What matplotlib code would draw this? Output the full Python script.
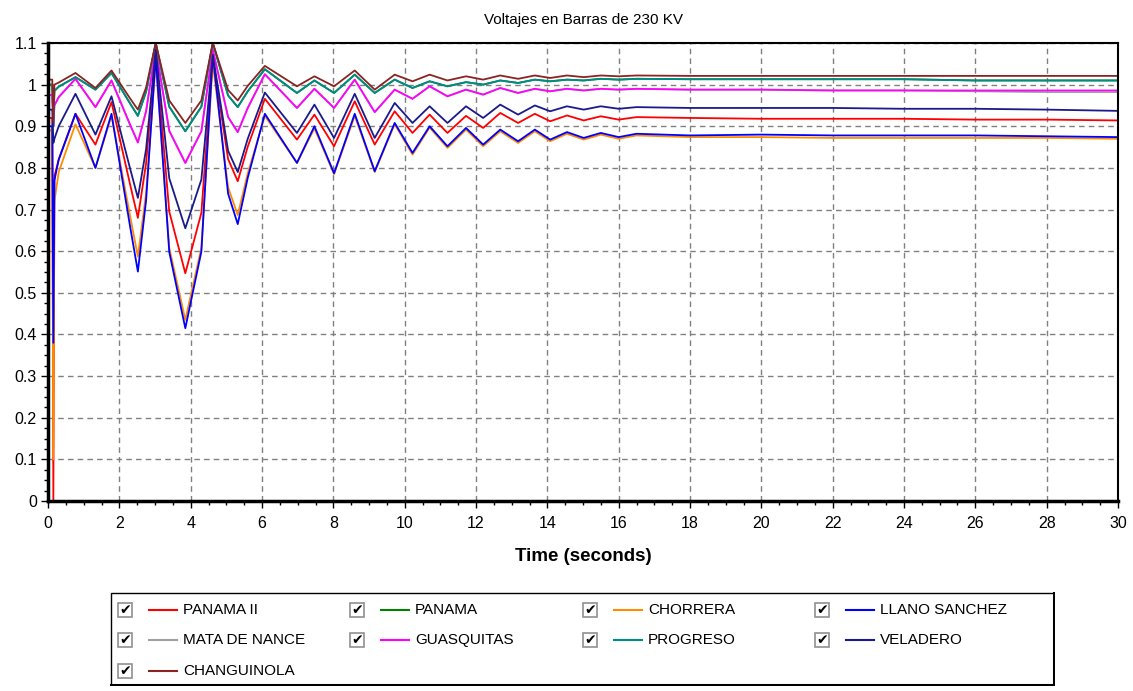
import matplotlib
matplotlib.use("Agg")
import matplotlib.pyplot as plt
from matplotlib.patches import Rectangle
from matplotlib.ticker import MultipleLocator, FormatStrFormatter

plt.rcParams["font.family"] = ["Liberation Sans", "DejaVu Sans"]

t = [0, 0.12, 0.15, 0.18, 0.3, 0.77, 1.33, 1.78, 2.3, 2.52,
     2.75, 3.02, 3.4, 3.85, 4.3, 4.62, 5.05, 5.32, 5.6, 6.08,
     6.98, 7.47, 8.02, 8.6, 9.16, 9.72,
     10.22, 10.7, 11.2, 11.72, 12.2, 12.68, 13.18, 13.65, 14.08, 14.55,
     15.02, 15.5, 16.0, 16.5, 18, 20, 22, 24, 26, 28, 30]

panama_ii = [0.92, 0.92, 0.0, 0.78, 0.82, 0.93, 0.856, 0.958, 0.761, 0.68,
             0.811, 1.076, 0.695, 0.547, 0.692, 1.064, 0.821, 0.768, 0.851, 0.966,
             0.868, 0.928, 0.852, 0.96, 0.856, 0.936,
             0.884, 0.928, 0.884, 0.925, 0.896, 0.932, 0.908, 0.93, 0.912, 0.926,
             0.914, 0.924, 0.916, 0.922, 0.92, 0.918, 0.918, 0.918, 0.916, 0.916, 0.914]
panama = [1.0, 1.0, 0.9, 0.985, 0.995, 1.018, 0.988, 1.028, 0.955, 0.925,
          0.983, 1.1, 0.947, 0.888, 0.947, 1.1, 0.974, 0.946, 0.984, 1.037,
          0.98, 1.01, 0.98, 1.024, 0.98, 1.012,
          0.992, 1.008, 0.996, 1.006, 1.0, 1.01, 1.004, 1.012, 1.008, 1.012,
          1.01, 1.014, 1.012, 1.014, 1.013, 1.013, 1.013, 1.013, 1.01, 1.01, 1.01]
chorrera = [0.89, 0.89, 0.1, 0.72, 0.79, 0.905, 0.8, 0.925, 0.685, 0.587,
            0.74, 1.052, 0.608, 0.435, 0.608, 1.052, 0.753, 0.687, 0.787, 0.925,
            0.812, 0.895, 0.785, 0.925, 0.79, 0.905,
            0.832, 0.897, 0.848, 0.892, 0.852, 0.888, 0.86, 0.888, 0.864, 0.882,
            0.868, 0.88, 0.87, 0.878, 0.874, 0.874, 0.872, 0.872, 0.872, 0.872, 0.87]
llano_sanchez = [0.9, 0.9, 0.38, 0.77, 0.82, 0.93, 0.8, 0.93, 0.66, 0.551,
                 0.722, 1.068, 0.598, 0.415, 0.599, 1.072, 0.738, 0.665, 0.776, 0.93,
                 0.812, 0.9, 0.787, 0.93, 0.792, 0.908,
                 0.836, 0.9, 0.852, 0.896, 0.856, 0.892, 0.864, 0.892, 0.868, 0.886,
                 0.872, 0.884, 0.874, 0.882, 0.878, 0.88, 0.878, 0.878, 0.878, 0.876, 0.874]
mata_de_nance = [0.975, 0.975, 0.9, 0.95, 0.97, 1.014, 0.946, 1.01, 0.904, 0.861,
                 0.936, 1.088, 0.889, 0.812, 0.888, 1.084, 0.922, 0.886, 0.944, 1.025,
                 0.944, 0.99, 0.944, 1.012, 0.934, 0.988,
                 0.966, 0.996, 0.972, 0.988, 0.976, 0.992, 0.98, 0.99, 0.984, 0.99,
                 0.986, 0.99, 0.988, 0.99, 0.988, 0.988, 0.986, 0.986, 0.984, 0.982, 0.982]
guasquitas = [0.975, 0.975, 0.9, 0.95, 0.97, 1.014, 0.946, 1.01, 0.904, 0.861,
              0.936, 1.088, 0.889, 0.812, 0.888, 1.084, 0.922, 0.886, 0.944, 1.025,
              0.944, 0.99, 0.944, 1.012, 0.934, 0.988,
              0.966, 0.996, 0.972, 0.988, 0.976, 0.992, 0.98, 0.99, 0.984, 0.99,
              0.986, 0.99, 0.988, 0.99, 0.988, 0.988, 0.986, 0.986, 0.986, 0.986, 0.986]
progreso = [1.0, 1.0, 0.9, 0.985, 0.995, 1.018, 0.988, 1.028, 0.955, 0.925,
            0.983, 1.1, 0.947, 0.888, 0.947, 1.1, 0.974, 0.946, 0.984, 1.037,
            0.98, 1.01, 0.98, 1.024, 0.98, 1.012,
            0.992, 1.008, 0.996, 1.006, 1.0, 1.01, 1.004, 1.012, 1.008, 1.012,
            1.01, 1.014, 1.012, 1.014, 1.013, 1.013, 1.013, 1.013, 1.01, 1.01, 1.01]
veladero = [0.94, 0.94, 0.86, 0.87, 0.9, 0.978, 0.88, 0.972, 0.799, 0.728,
            0.845, 1.084, 0.775, 0.655, 0.772, 1.072, 0.841, 0.79, 0.87, 0.981,
            0.884, 0.952, 0.872, 0.978, 0.872, 0.956,
            0.908, 0.948, 0.908, 0.948, 0.92, 0.952, 0.928, 0.95, 0.936, 0.948,
            0.94, 0.948, 0.942, 0.946, 0.944, 0.944, 0.944, 0.942, 0.942, 0.94, 0.937]
changuinola = [1.012, 1.012, 0.91, 1.0, 1.005, 1.028, 0.992, 1.034, 0.967, 0.94,
               0.993, 1.1, 0.962, 0.908, 0.962, 1.1, 0.987, 0.962, 0.997, 1.045,
               0.996, 1.02, 0.996, 1.034, 0.988, 1.024,
               1.008, 1.024, 1.01, 1.02, 1.012, 1.022, 1.014, 1.022, 1.016, 1.022,
               1.018, 1.022, 1.02, 1.022, 1.021, 1.021, 1.021, 1.021, 1.021, 1.021, 1.021]

names = ["PANAMA II", "PANAMA", "CHORRERA", "LLANO SANCHEZ", "MATA DE NANCE",
         "GUASQUITAS", "PROGRESO", "VELADERO", "CHANGUINOLA"]
series = [panama_ii, panama, chorrera, llano_sanchez, mata_de_nance,
          guasquitas, progreso, veladero, changuinola]
colors = ["#FF0000", "#008000", "#FF8C00", "#0000FF", "#A0A0A0",
          "#FF00FF", "#008B8B", "#1A1A8C", "#8B2323"]

fig = plt.figure(figsize=(11.33, 6.91), dpi=100)
ax = fig.add_axes([48 / 1133, 1 - 501 / 691, (1118 - 48) / 1133, (501 - 43) / 691])

for vals, c in zip(series, colors):
    ax.plot(t, vals, color=c, lw=1.3)

ax.set_xlim(0, 30)
ax.set_ylim(0, 1.1)
ax.xaxis.set_major_locator(MultipleLocator(2))
ax.xaxis.set_minor_locator(MultipleLocator(0.5))
ax.yaxis.set_major_locator(MultipleLocator(0.1))
ax.yaxis.set_minor_locator(MultipleLocator(0.025))
ax.yaxis.set_major_formatter(FormatStrFormatter("%g"))
ax.grid(True, which="major", color="#808080", linestyle=(0, (4, 3)), lw=1)
ax.tick_params(which="major", length=5, width=1, labelsize=11.5, pad=3)
ax.tick_params(axis="x", which="major", pad=6)
ax.tick_params(which="minor", length=3, width=1)
for s in ["left", "bottom"]:
    ax.spines[s].set_linewidth(2.5)
for s in ["top", "right"]:
    ax.spines[s].set_linewidth(1.5)

ax.set_title("Voltajes en Barras de 230 KV", fontsize=11, pad=14)
ax.set_xlabel("Time (seconds)", fontsize=13.5, fontweight="bold", labelpad=12)

# legend panel with check boxes
lax = fig.add_axes([110 / 1133, 1 - 686 / 691, (1055 - 110) / 1133, (686 - 592) / 691])
lax.set_xlim(0, 945)
lax.set_ylim(94, 0)
lax.axis("off")
lax.add_patch(Rectangle((0.5, 0.5), 943, 92, fill=False, edgecolor="black", lw=1))
lax.plot([944, 944, 1], [1, 93, 93], color="black", lw=2.2)

col_x = [8, 240, 473, 705]
row_y = [18, 48, 79]
for i, (name, c) in enumerate(zip(names, colors)):
    x0 = col_x[i % 4]
    y0 = row_y[i // 4]
    lax.add_patch(Rectangle((x0, y0 - 7), 14, 14, facecolor="white",
                            edgecolor="#909090", lw=1.2))
    lax.text(x0 + 7, y0 + 0.5, "\u2714", fontsize=10, ha="center", va="center",
             family=["DejaVu Sans"], color="black")
    lax.plot([x0 + 31, x0 + 59], [y0, y0], color=c, lw=1.5)
    lax.text(x0 + 65, y0, name, fontsize=11, va="center", ha="left")

fig.savefig("out.png", dpi=100)
